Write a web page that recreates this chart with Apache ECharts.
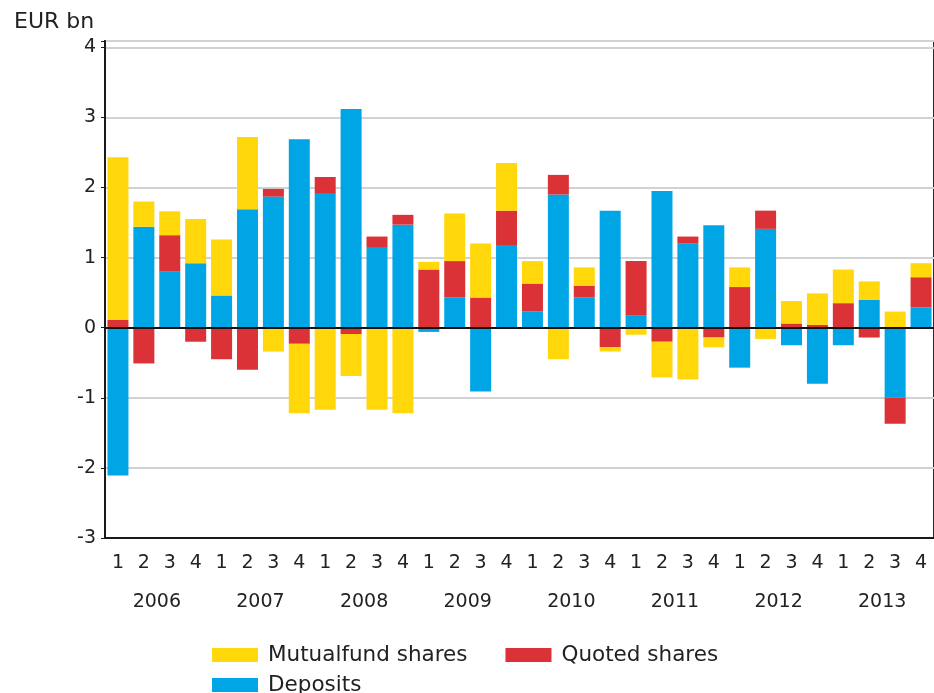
<!DOCTYPE html>
<html>
<head>
<meta charset="utf-8">
<script src="https://cdn.jsdelivr.net/npm/echarts@6/dist/echarts.min.js"></script>
<style>
html,body{margin:0;padding:0;background:#fff;}
#chart{width:934px;height:693px;}
</style>
</head>
<body>
<div id="chart"></div>
<script>
const years = ['2006','2007','2008','2009','2010','2011','2012','2013'];
const quarters = ['1','2','3','4'];
const categories = years.flatMap(y => quarters.map(q => y + ' Q' + q));

const deposits = [-2.11, 1.44, 0.80, 0.92, 0.46, 1.69, 1.87, 2.69,
                  1.92, 3.12, 1.15, 1.47, -0.06, 0.43, -0.91, 1.18,
                  0.23, 1.90, 0.43, 1.67, 0.18, 1.95, 1.20, 1.46,
                  -0.57, 1.41, -0.25, -0.80, -0.25, 0.40, -1.00, 0.29];
const quoted = [0.11, -0.51, 0.52, -0.20, -0.45, -0.60, 0.11, -0.23,
                0.23, -0.09, 0.15, 0.14, 0.83, 0.52, 0.43, 0.49,
                0.40, 0.28, 0.17, -0.28, 0.77, -0.20, 0.10, -0.14,
                0.58, 0.26, 0.06, 0.04, 0.35, -0.14, -0.37, 0.43];
const mutualfund = [2.32, 0.36, 0.34, 0.63, 0.80, 1.03, -0.34, -0.99,
                    -1.17, -0.60, -1.17, -1.22, 0.11, 0.68, 0.77, 0.68,
                    0.32, -0.45, 0.26, -0.06, -0.10, -0.51, -0.74, -0.14,
                    0.28, -0.16, 0.32, 0.45, 0.48, 0.26, 0.23, 0.20];

const seriesNames = ['Deposits', 'Quoted shares', 'Mutualfund shares'];
const yMin = -3, yMax = 4, yStep = 1;

const FONT = 'DejaVu Sans';
const TXT = '#222';
const colors = {deposits: '#00a5e6', quoted: '#da3236', mutualfund: '#ffd70a'};

const chart = echarts.init(document.getElementById('chart'), null, {renderer: 'canvas'});
const barW = 21;
chart.setOption({
  animation: false,
  backgroundColor: '#fff',
  title: {
    text: 'EUR bn', left: 9, top: 6,
    textStyle: {fontFamily: FONT, fontSize: 22, fontWeight: 'normal', color: TXT}
  },
  grid: {left: 105, top: 41, bottom: 155, right: -7, show: true, borderColor: '#2a2a2a', borderWidth: 2, backgroundColor: 'transparent'},
  legend: [{
    data: ['Mutualfund shares', 'Quoted shares'],
    left: 212, top: 644, padding: 0, itemGap: 38,
    itemWidth: 46, itemHeight: 14, icon: 'rect',
    textStyle: {fontFamily: FONT, fontSize: 21.5, color: TXT, padding: [0, 0, 0, 5]}
  }, {
    data: ['Deposits'],
    left: 212, top: 674, padding: 0,
    itemWidth: 46, itemHeight: 14, icon: 'rect',
    textStyle: {fontFamily: FONT, fontSize: 21.5, color: TXT, padding: [0, 0, 0, 5]}
  }],
  xAxis: [{
    type: 'category', data: categories, position: 'bottom',
    axisLine: {onZero: false, lineStyle: {color: '#1a1a1a', width: 2}},
    axisTick: {show: false},
    axisLabel: {interval: 0, margin: 16, fontFamily: FONT, fontSize: 19, color: TXT,
      formatter: v => v.split(' Q')[1]}
  }, {
    type: 'category', data: years, position: 'bottom',
    axisLine: {show: false}, axisTick: {show: false},
    axisLabel: {interval: 0, margin: 55, fontFamily: FONT, fontSize: 19, color: TXT}
  }],
  yAxis: {
    type: 'value', min: yMin, max: yMax + 0.09, interval: yStep,
    axisLine: {show: true, lineStyle: {color: '#1a1a1a', width: 2}},
    axisTick: {show: true, length: 4, lineStyle: {color: '#1a1a1a', width: 1}},
    axisLabel: {margin: 9, fontFamily: FONT, fontSize: 19, color: TXT,
      formatter: v => Number.isInteger(v) ? String(v) : ''},
    splitLine: {show: true, lineStyle: {color: '#d2d2d2', width: 2}}
  },
  series: [{
    name: seriesNames[0], type: 'bar', stack: 'total', data: deposits, barWidth: barW,
    itemStyle: {color: colors.deposits}
  }, {
    name: seriesNames[1], type: 'bar', stack: 'total', data: quoted, barWidth: barW,
    itemStyle: {color: colors.quoted}
  }, {
    name: seriesNames[2], type: 'bar', stack: 'total', data: mutualfund, barWidth: barW,
    itemStyle: {color: colors.mutualfund},
    markLine: {
      silent: true, symbol: 'none', label: {show: false},
      lineStyle: {color: '#111', width: 2, type: 'solid'},
      data: [{yAxis: 0}]
    }
  }]
});
</script>
</body>
</html>
